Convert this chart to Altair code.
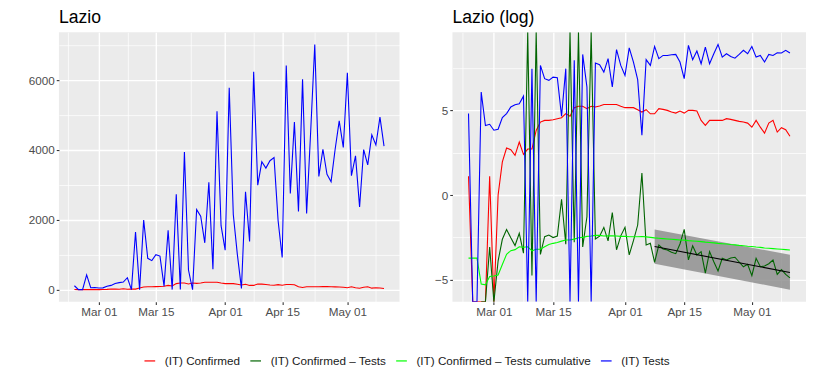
import altair as alt
import pandas as pd
from datetime import date, datetime, timedelta, timezone

# ---------------- data ----------------
START = date(2020, 2, 24)
N_DAYS = 77
dates = [(START + timedelta(days=i)).isoformat() for i in range(N_DAYS)]

N_CONF = "(IT) Confirmed"
N_DIFF = "(IT) Confirmed \u2013 Tests"
N_CUM = "(IT) Confirmed \u2013 Tests cumulative"
N_TEST = "(IT) Tests"
series_names = [N_CONF, N_DIFF, N_CUM, N_TEST]
series_colors = ["#FF0000", "#006400", "#00FF00", "#0000FF"]

tests = [110, 0, 0, 420, 55, 60, 45, 50, 95, 120,
         175, 200, 215, 340, 0, 1650, 0, 1990, 895, 830,
         1000, 960, 100, 1700, 0, 2730, 0, 3940, 560, 0,
         2290, 2100, 1340, 3070, 580, 5110, 1830, 1130, 5780, 2150,
         1000, 35, 2800, 1380, 6240, 2990, 3660, 3480, 3690, 3780,
         1970, 920, 6420, 2750, 4800, 2240, 6020, 2180, 4540, 7020,
         3240, 4020, 3300, 3090, 4020, 4830, 4070, 6210, 3260, 3830,
         2370, 4010, 3570, 4430, 4140, 4940, 4110]

confirmed = [3, 0, 0, 0, 0, 3, 0, 1, 7, 16,
             14, 10, 23, 11, 15, 15, 45, 74, 81, 81,
             85, 90, 96, 122, 104, 172, 187, 187, 162, 187,
             179, 191, 209, 209, 209, 209, 187, 172, 172, 172,
             153, 133, 153, 120, 120, 162, 156, 147, 133, 125,
             141, 125, 147, 147, 141, 81, 61, 81, 81, 81,
             81, 90, 86, 81, 77, 74, 69, 55, 81, 55,
             38, 69, 81, 41, 53, 47, 32]

# log panel: values at the panel floor / ceiling are the -Inf / +Inf points
F = -6.3
T = 9.6
log_tests = [4.80, F, F, 6.07, 4.10, 4.17, 3.82, 3.88, 4.56, 4.80,
             5.19, 5.32, 5.38, 5.83, F, 7.45, F, 7.64, 6.86, 6.76,
             6.95, 6.92, 4.65, 7.45, F, 7.94, F, 8.29, 6.37, F,
             7.78, 7.68, 7.25, 8.04, 6.37, 8.57, 7.64, 7.05, 8.68, 7.84,
             6.80, 3.52, 7.98, 7.64, 8.76, 8.04, 8.23, 8.23, 8.27, 8.29,
             7.84, 6.86, 8.82, 7.98, 8.49, 7.74, 8.72, 7.74, 8.33, 8.88,
             8.13, 8.33, 8.17, 8.07, 8.29, 8.53, 8.33, 8.76, 8.13, 8.23,
             7.84, 8.29, 8.23, 8.39, 8.37, 8.53, 8.37]

log_confirmed = [1.10, F, F, F, F, 1.10, F, 0.00, 1.95, 2.77,
                 2.67, 2.34, 3.12, 2.40, 2.71, 2.71, 3.81, 4.30, 4.40, 4.40,
                 4.44, 4.50, 4.56, 4.80, 4.64, 5.15, 5.23, 5.23, 5.09, 5.23,
                 5.19, 5.25, 5.34, 5.34, 5.34, 5.34, 5.23, 5.15, 5.15, 5.15,
                 5.03, 4.89, 5.03, 4.79, 4.79, 5.09, 5.05, 4.99, 4.89, 4.83,
                 4.95, 4.83, 4.99, 4.99, 4.95, 4.40, 4.11, 4.40, 4.40, 4.40,
                 4.40, 4.50, 4.46, 4.40, 4.34, 4.30, 4.24, 4.00, 4.40, 4.00,
                 3.65, 4.24, 4.40, 3.71, 3.97, 3.85, 3.46]

# Confirmed - Tests: first drawn point is day 3 (days 1-2 undefined)
DIFF_FIRST = 3
log_conf_minus_tests = [F, F, -3.07, F, -3.88, -2.61, -2.03,
                        -2.52, -2.98, -2.26, -3.43, T, -4.74, T, -3.50, -2.46, -2.36,
                        -2.51, -2.42, -0.25, -2.90, T, -2.79, T, -3.06, -1.28, T,
                        -2.59, -2.43, -1.91, -2.70, -1.03, -3.23, -2.41, -1.90, -3.53, -2.69,
                        -1.77, 1.30, -2.95, -2.85, -3.97, -2.95, -3.18, -3.24, -3.38, -3.46,
                        -2.89, -2.03, -3.83, -2.99, -3.54, -3.34, -4.61, -3.34, -3.93, -4.48,
                        -3.73, -3.83, -3.71, -3.67, -3.95, -4.23, -4.09, -4.76, -3.73, -4.23,
                        -4.19, -4.05, -3.83, -4.68, -4.40, -4.68, -4.89]

log_conf_minus_tests_cum = [-3.72, -3.72, -3.72, -5.25, -5.30, -4.80, -4.78, -4.72, -4.10, -3.50,
                            -3.28, -3.22, -3.05, -3.08, -3.05, -3.30, -3.20, -3.20, -3.05, -2.92,
                            -2.85, -2.80, -2.72, -2.65, -2.65, -2.60, -2.52, -2.50, -2.44, -2.42,
                            -2.38, -2.38, -2.42, -2.41, -2.40, -2.42, -2.44, -2.44, -2.46, -2.46,
                            -2.46, -2.45, -2.47, -2.50, -2.53, -2.55, -2.57, -2.59, -2.61, -2.63,
                            -2.65, -2.66, -2.69, -2.71, -2.73, -2.75, -2.78, -2.80, -2.82, -2.85,
                            -2.87, -2.89, -2.92, -2.94, -2.97, -2.99, -3.02, -3.04, -3.07, -3.09,
                            -3.12, -3.14, -3.16, -3.18, -3.20, -3.22, -3.24]

# linear fit on the log panel (Apr 08 - May 10) with its band
fit_dates = ["2020-04-08", "2020-05-10"]
fit_mid = [-3.04, -4.57]
fit_low = [-4.05, -5.58]
fit_high = [-2.04, -3.52]

# ---------------- tables ----------------
left_df = pd.DataFrame({
    "date": dates * 2,
    "series": [N_CONF] * N_DAYS + [N_TEST] * N_DAYS,
    "value": confirmed + tests,
})

diff_dates = dates[DIFF_FIRST:]
right_df = pd.DataFrame({
    "date": dates + diff_dates + dates + dates,
    "series": [N_CONF] * N_DAYS + [N_DIFF] * len(diff_dates) + [N_CUM] * N_DAYS + [N_TEST] * N_DAYS,
    "value": log_confirmed + log_conf_minus_tests + log_conf_minus_tests_cum + log_tests,
})

fit_df = pd.DataFrame({"date": fit_dates, "mid": fit_mid, "low": fit_low, "high": fit_high})

# ---------------- scales / axes ----------------
def ms(y, m, d, h=0):
    return datetime(y, m, d, h, tzinfo=timezone.utc).timestamp() * 1000

DAY = 86400000
x_lo = ms(2020, 2, 24) - 3.8 * DAY
x_hi = ms(2020, 5, 10) + 3.8 * DAY
x_ticks = [ms(2020, 2, 22, 12), ms(2020, 3, 1), ms(2020, 3, 8), ms(2020, 3, 15),
           ms(2020, 3, 23, 12), ms(2020, 4, 1), ms(2020, 4, 8), ms(2020, 4, 15),
           ms(2020, 4, 23), ms(2020, 5, 1), ms(2020, 5, 8)]
MAJ_X = "utcdate(datum.value) == 1 || utcdate(datum.value) == 15"

FONT = "Liberation Sans"
axis_common = dict(
    title=None, domain=False, labelFont=FONT, labelFontSize=11.7, labelColor="#4D4D4D",
    tickColor="#333333", tickSize=2.7, tickWidth=1.07, labelPadding=2,
    grid=True, gridColor="#FFFFFF", gridOpacity=1, labelOverlap=False, labelFlush=False,
)

def x_enc():
    return alt.X(
        "date:T",
        scale=alt.Scale(type="utc", domain=[x_lo, x_hi], nice=False),
        axis=alt.Axis(
            values=x_ticks,
            labelExpr=f"({MAJ_X}) ? utcFormat(datum.value, '%b %d') : ''",
            gridWidth={"condition": {"test": MAJ_X, "value": 1.4}, "value": 0.7},
            tickOpacity={"condition": {"test": MAJ_X, "value": 1}, "value": 0},
            **axis_common,
        ),
    )

legend = alt.Legend(
    orient="none", legendX=85, legendY=323, direction="horizontal", title=None,
    labelFont=FONT, labelFontSize=11.7, labelColor="#1A1A1A", labelLimit=400,
    symbolType="stroke", symbolSize=115, symbolStrokeWidth=1.2,
    labelOffset=9, columnPadding=7,
)
color_enc = alt.Color("series:N", scale=alt.Scale(domain=series_names, range=series_colors),
                      legend=legend)

LEFT_MAJ = "datum.value % 2000 == 0"
left_y = alt.Y(
    "value:Q",
    scale=alt.Scale(domain=[-351, 7371], nice=False, zero=False),
    axis=alt.Axis(
        values=[0, 1000, 2000, 3000, 4000, 5000, 6000, 7000],
        labelExpr=f"({LEFT_MAJ}) ? format(datum.value, 'd') : ''",
        gridWidth={"condition": {"test": LEFT_MAJ, "value": 1.4}, "value": 0.7},
        tickOpacity={"condition": {"test": LEFT_MAJ, "value": 1}, "value": 0},
        minExtent=51, maxExtent=51,
        **axis_common,
    ),
)

RIGHT_MAJ = "datum.value % 5 == 0"
right_scale = alt.Scale(domain=[F, T], nice=False, zero=False, clamp=True)
right_y = alt.Y(
    "value:Q",
    scale=right_scale,
    axis=alt.Axis(
        values=[-5, -2.5, 0, 2.5, 5, 7.5],
        labelExpr=f"({RIGHT_MAJ}) ? format(datum.value, 'd') : ''",
        gridWidth={"condition": {"test": RIGHT_MAJ, "value": 1.4}, "value": 0.7},
        tickOpacity={"condition": {"test": RIGHT_MAJ, "value": 1}, "value": 0},
        minExtent=33, maxExtent=33,
        **axis_common,
    ),
)

def title(text):
    return alt.TitleParams(text, anchor="start", frame="group", font=FONT, fontSize=17.6,
                           fontWeight="normal", color="#000000", baseline="alphabetic", offset=-8)

LW = 1.1

left = alt.Chart(left_df).mark_line(strokeWidth=LW, clip=True).encode(
    x=x_enc(), y=left_y, color=color_enc
).properties(width=341, height=270, title=title("Lazio"))

band = alt.Chart(fit_df).mark_area(color="#8a8a8a", opacity=0.8, clip=True).encode(
    x=x_enc(), y=alt.Y("low:Q", scale=right_scale), y2="high:Q"
)
lines = alt.Chart(right_df).mark_line(strokeWidth=LW, clip=True).encode(
    x=x_enc(), y=right_y, color=color_enc
)
fit = alt.Chart(fit_df).mark_line(color="#000000", strokeWidth=LW, clip=True).encode(
    x=x_enc(), y=alt.Y("mid:Q", scale=right_scale)
)
right = alt.layer(band, lines, fit).properties(width=354, height=270, title=title("Lazio (log)"))

chart = alt.hconcat(left, right, spacing=20).properties(
    padding={"left": 0, "top": 0, "right": 0, "bottom": 0}
).configure(
    font=FONT, background="#FFFFFF"
).configure_view(
    fill="#EBEBEB", stroke=None
)

chart.save("out.html", embed_options={"renderer": "svg", "actions": False})
